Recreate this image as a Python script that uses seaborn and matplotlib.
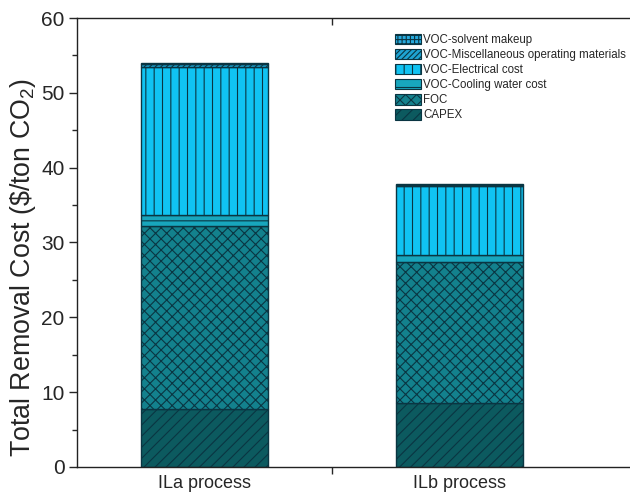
import matplotlib
matplotlib.use("Agg")
import matplotlib.pyplot as plt
from matplotlib.patches import Patch
from matplotlib.ticker import MultipleLocator, FixedLocator
import numpy as np
import pandas as pd
import seaborn as sns

# Cost breakdown per process ($/ton CO2), stacked bottom to top
processes = ["ILa process", "ILb process"]
components = [
    "CAPEX",
    "FOC",
    "VOC-Cooling water cost",
    "VOC-Electrical cost",
    "VOC-Miscellaneous operating materials",
    "VOC-solvent makeup",
]
capex = [7.8, 8.6]
foc = [24.4, 18.8]
cooling_water = [1.5, 0.9]
electrical = [19.8, 9.3]
misc_materials = [0.3, 0.1]
solvent_makeup = [0.2, 0.1]
values = [capex, foc, cooling_water, electrical, misc_materials, solvent_makeup]

colors = ["#0c5a5f", "#13818d", "#18a6bd", "#10c3f2", "#1ea3d2", "#27a9dc"]
hatches = ["///", "xxx", "--", "||", "//////", "++++"]
edge = "#0a3542"

sns.set_theme(style="white")
plt.rcParams["font.family"] = ["Liberation Sans", "DejaVu Sans"]
plt.rcParams["hatch.linewidth"] = 0.8
plt.rcParams["mathtext.fontset"] = "custom"
plt.rcParams["mathtext.rm"] = "Liberation Sans"

fig = plt.figure(figsize=(6.30, 5.01), dpi=100)
ax = fig.add_axes([0.1222, 0.068, 0.881, 0.896])

bottom = np.zeros(len(processes))
for name, vals, col, hat in zip(components, values, colors, hatches):
    df = pd.DataFrame({"process": processes, "cost": vals})
    sns.barplot(data=df, x="process", y="cost", ax=ax, color=col,
                saturation=1, width=0.5, bottom=bottom, hatch=hat,
                edgecolor=edge, linewidth=1.0, errorbar=None)
    bottom = bottom + np.array(vals)

ax.set_xlim(-0.5, 1.676)
ax.set_ylim(0, 60)
ax.set_xlabel("")
ax.set_ylabel(r"Total Removal Cost (\$/ton CO$_2$)", fontsize=19.3)
ax.yaxis.set_label_coords(-0.071, 0.445)

for s in ax.spines.values():
    s.set_visible(True)
    s.set_color("#222222")
    s.set_linewidth(1.0)

ax.yaxis.set_major_locator(MultipleLocator(10))
ax.yaxis.set_minor_locator(MultipleLocator(5))
ax.tick_params(axis="y", which="major", direction="out", length=6, width=1,
               labelsize=15, pad=3, left=True, right=False)
ax.tick_params(axis="y", which="minor", direction="out", length=3.5, width=1,
               left=True, right=False)
ax.xaxis.set_major_locator(FixedLocator([0, 1]))
ax.set_xticklabels(processes)
ax.xaxis.set_minor_locator(FixedLocator([0.5]))
ax.tick_params(axis="x", which="major", direction="in", length=5, width=1,
               labelsize=13, pad=6, bottom=True, top=False)
ax.tick_params(axis="x", which="minor", direction="out", length=5, width=1,
               bottom=True, top=False)

top = ax.secondary_xaxis("top")
top.set_xticks([0.5])
top.tick_params(direction="in", length=5, width=1, labeltop=False)
top.spines["top"].set_visible(False)

handles = [Patch(facecolor=c, edgecolor=edge, hatch=h, linewidth=0.8)
           for c, h in zip(colors, hatches)][::-1]
ax.legend(handles, components[::-1], loc="upper left",
          bbox_to_anchor=(0.564, 0.975), frameon=False, fontsize=8.3,
          handlelength=2.3, handleheight=1.0, labelspacing=0.26,
          handletextpad=0.2, borderaxespad=0.0)

fig.savefig("out.png", dpi=100)
